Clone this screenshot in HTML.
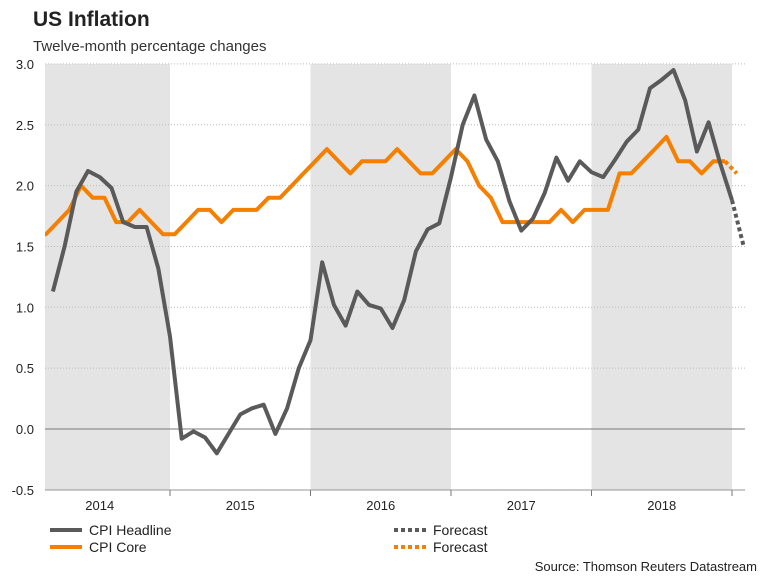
<!DOCTYPE html>
<html><head><meta charset="utf-8">
<style>
body{margin:0;background:#fff;font-family:"Liberation Sans",sans-serif;}
svg{display:block}
</style></head>
<body>
<svg width="768" height="576" xmlns="http://www.w3.org/2000/svg">
<text x="33" y="26" font-size="21" font-weight="bold" fill="#222">US Inflation</text>
<text x="33" y="51" font-size="15" fill="#333">Twelve-month percentage changes</text>
<g id="bands"></g>
<g id="grid"></g>
<g id="ylabels"></g>
<g id="xlabels"></g>
<defs><clipPath id="clip"><rect x="45" y="40" width="700" height="460"/></clipPath></defs>
<g id="lines" clip-path="url(#clip)"></g>
<g>
<line x1="50" y1="530" x2="82" y2="530" stroke="#5a5a5a" stroke-width="4"/>
<text x="89" y="535" font-size="14" fill="#222">CPI Headline</text>
<line x1="50" y1="547" x2="82" y2="547" stroke="#f47f00" stroke-width="4"/>
<text x="89" y="552" font-size="14" fill="#222">CPI Core</text>
<line x1="394" y1="530" x2="426" y2="530" stroke="#5a5a5a" stroke-width="4" stroke-dasharray="4,3"/>
<text x="433" y="535" font-size="14" fill="#222">Forecast</text>
<line x1="394" y1="547" x2="426" y2="547" stroke="#f47f00" stroke-width="4" stroke-dasharray="4,3"/>
<text x="433" y="552" font-size="14" fill="#222">Forecast</text>
</g>
<text x="757" y="571" font-size="13" fill="#222" text-anchor="end">Source: Thomson Reuters Datastream</text>
</svg>
<script>
const years=["2014","2015","2016","2017","2018"];
const yTicks=[3.0,2.5,2.0,1.5,1.0,0.5,0.0,-0.5];
const headline=[1.13,1.5,1.95,2.12,2.07,1.98,1.7,1.66,1.66,1.32,0.76,
-0.08,-0.02,-0.07,-0.2,-0.04,0.12,0.17,0.2,-0.04,0.17,0.5,0.73,
1.37,1.02,0.85,1.13,1.02,0.99,0.83,1.06,1.46,1.64,1.69,2.07,
2.5,2.74,2.38,2.2,1.87,1.63,1.73,1.94,2.23,2.04,2.2,2.11,
2.07,2.21,2.36,2.46,2.8,2.87,2.95,2.7,2.28,2.52,2.18,1.88];
const headlineForecast=[1.88,1.5];
const core=[1.6,1.6,1.7,1.8,2.0,1.9,1.9,1.7,1.7,1.8,1.7,1.6,
1.6,1.7,1.8,1.8,1.7,1.8,1.8,1.8,1.9,1.9,2.0,2.1,
2.2,2.3,2.2,2.1,2.2,2.2,2.2,2.3,2.2,2.1,2.1,2.2,
2.3,2.2,2.0,1.9,1.7,1.7,1.7,1.7,1.7,1.8,1.7,1.8,
1.8,1.8,2.1,2.1,2.2,2.3,2.4,2.2,2.2,2.1,2.2,2.2];
const coreForecast=[2.2,2.1];
const NS="http://www.w3.org/2000/svg";
const yearW=140.5, x0=170-yearW;
function xs(m){return x0+(m+1)*yearW/12;}
function ys(v){return 429-v*121.7;}
function mk(tag,attrs,parent){const e=document.createElementNS(NS,tag);for(const k in attrs)e.setAttribute(k,attrs[k]);document.getElementById(parent).appendChild(e);return e;}
years.forEach((y,i)=>{
  const xa=x0+i*yearW;
  if(i%2===0){
    const r=mk('rect',{x:Math.max(45,xa),y:64,width:xa+yearW-Math.max(45,xa),height:426,fill:'#e4e4e4'},'bands');
    
    
  }
  const t=mk('text',{x:xa+yearW/2,y:510,'font-size':13,fill:'#222','text-anchor':'middle'},'xlabels');
  t.textContent=y;
  
  
  const tk=mk('line',{x1:xa+yearW,y1:490,x2:xa+yearW,y2:496,stroke:'#777'},'xlabels');
  
  
});
yTicks.forEach(v=>{
  const g=mk('line',{x1:45,x2:745,y1:ys(v),y2:ys(v),stroke:v===0?'#777':'#bbb','stroke-dasharray':v===0?'':'1,2','stroke-width':1},'grid');
  
  
  const t=mk('text',{x:34,y:ys(v)+5,'font-size':13,fill:'#222','text-anchor':'end'},'ylabels');
  t.textContent=v.toFixed(1);
  
  
});
const ax=mk('line',{x1:45,x2:745,y1:490,y2:490,stroke:'#999'},'grid');


function line(data,start,off,color,dash,name){
  const pts=data.map((v,i)=>(xs(start+i)+off).toFixed(1)+','+ys(v).toFixed(1)).join(' ');
  const p=mk('polyline',{points:pts,fill:'none',stroke:color,'stroke-width':4,'stroke-linejoin':'round','stroke-dasharray':dash},'lines');
  
  
}
line(core,0,-7,'#f47f00','','cpi-core-line');
line(coreForecast,59,-7,'#f47f00','4,3','cpi-core-forecast');
line(headline,1,0,'#5a5a5a','','cpi-headline-line');
line(headlineForecast,59,0,'#5a5a5a','4,3','cpi-headline-forecast');
</script>
</body></html>
